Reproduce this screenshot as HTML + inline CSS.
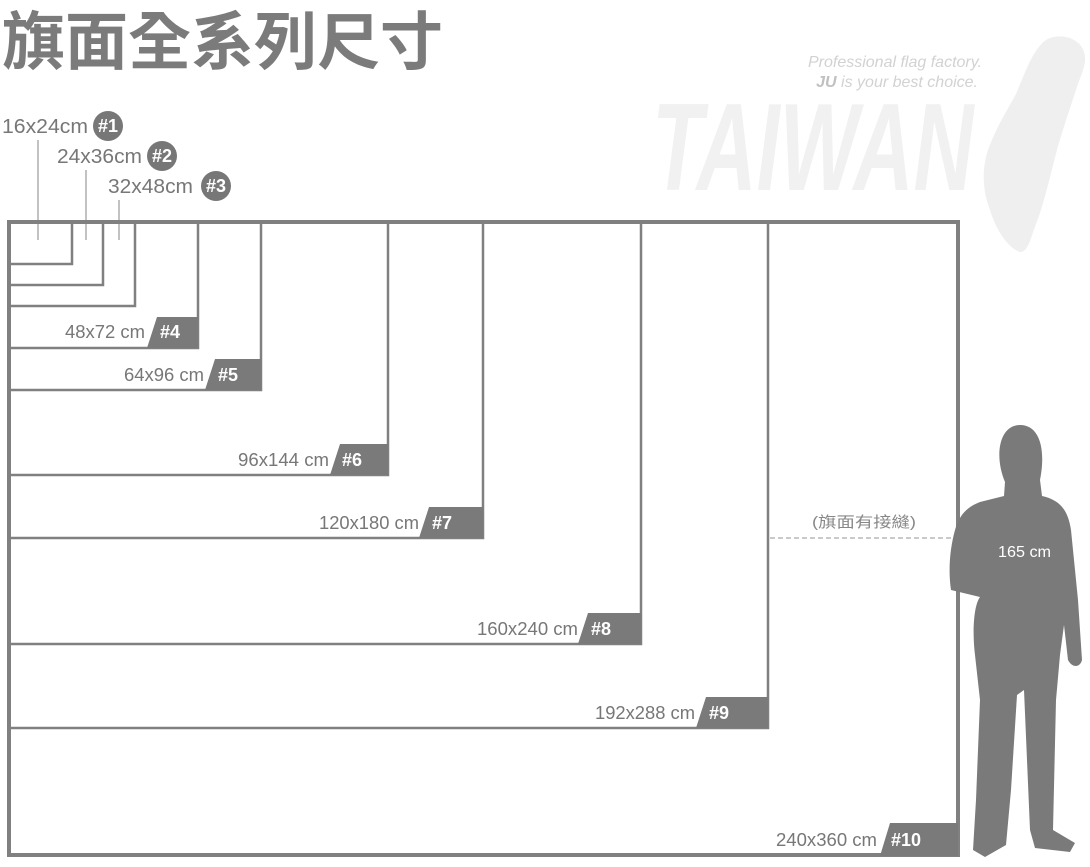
<!DOCTYPE html>
<html><head><meta charset="utf-8"><style>
html,body{margin:0;padding:0;background:#fff;width:1090px;height:867px;overflow:hidden}
svg{display:block}
text{font-family:"Liberation Sans","Noto Sans CJK TC",sans-serif}
</style></head><body>
<svg width="1090" height="867" viewBox="0 0 1090 867" xmlns="http://www.w3.org/2000/svg">
<!-- watermark -->
<path d="M1046,40 C1060,32 1080,38 1084,52 C1088,64 1080,76 1076,90 C1070,108 1064,126 1058,146 C1050,176 1044,204 1036,224 C1030,240 1028,252 1020,252 C1008,248 996,230 990,210 C982,190 982,168 988,150 C996,128 1006,112 1016,94 C1024,76 1032,50 1046,40 Z" fill="#efefef"/>
<text transform="translate(652,190) scale(0.67,1)" font-size="124" font-weight="bold" font-style="italic" fill="#f1f1f1">TAIWAN</text>
<text x="982" y="67" font-size="16" font-style="italic" fill="#d2d2d2" text-anchor="end">Professional flag factory.</text>
<text x="978" y="87" font-size="16" font-style="italic" fill="#d2d2d2" text-anchor="end"><tspan font-weight="bold" fill="#c0c0c0">JU</tspan> is your best choice.</text>

<text x="2" y="64" font-size="63" font-weight="bold" fill="#7b7b7b" font-family="'Noto Sans CJK TC',sans-serif">旗面全系列尺寸</text>

<!-- small labels -->
<g font-size="20" fill="#777">
<text x="2" y="133" textLength="86" lengthAdjust="spacingAndGlyphs">16x24cm</text>
<text x="57" y="163" textLength="85" lengthAdjust="spacingAndGlyphs">24x36cm</text>
<text x="108" y="193" textLength="85" lengthAdjust="spacingAndGlyphs">32x48cm</text>
</g>
<g fill="#777"><circle cx="108" cy="126" r="15"/><circle cx="162" cy="156" r="15"/><circle cx="216" cy="186" r="15"/></g>
<g font-size="18" font-weight="bold" fill="#fff" text-anchor="middle">
<text x="108" y="132">#1</text><text x="162" y="162">#2</text><text x="216" y="192">#3</text>
</g>
<g stroke="#999" stroke-width="1.2">
<line x1="38" y1="140" x2="38" y2="240"/><line x1="86" y1="170" x2="86" y2="240"/><line x1="119" y1="200" x2="119" y2="240"/>
</g>

<!-- rects -->
<g fill="none" stroke="#808080" stroke-width="2.5">
<polyline points="8,264 72,264 72,221"/>
<polyline points="8,285 103,285 103,221"/>
<polyline points="8,306 135,306 135,221"/>
<polyline points="8,348 198,348 198,221"/>
<polyline points="8,390 261,390 261,221"/>
<polyline points="8,475 388,475 388,221"/>
<polyline points="8,538 483,538 483,221"/>
<polyline points="8,644 641,644 641,221"/>
<polyline points="8,728 768,728 768,221"/>
</g>
<rect x="9" y="222" width="949" height="633" fill="none" stroke="#808080" stroke-width="4"/>
<line x1="770" y1="538" x2="956" y2="538" stroke="#aaa" stroke-width="1.2" stroke-dasharray="5,3"/>
<text x="812" y="527" font-size="15" fill="#888" textLength="104" lengthAdjust="spacingAndGlyphs">(旗面有接縫)</text>

<!-- tags -->
<g fill="#7a7a7a">
<polygon points="157,317 198,317 198,348 147,348"/>
<polygon points="215,359 261,359 261,390 205,390"/>
<polygon points="340,444 388,444 388,475 330,475"/>
<polygon points="429,507 483,507 483,538 419,538"/>
<polygon points="588,613 641,613 641,644 578,644"/>
<polygon points="706,697 768,697 768,728 696,728"/>
<polygon points="890,823 958,823 958,856 880,856"/>
</g>
<g font-size="18" font-weight="bold" fill="#fff">
<text x="160" y="338">#4</text><text x="218" y="381">#5</text><text x="342" y="466">#6</text>
<text x="432" y="529">#7</text><text x="591" y="635">#8</text><text x="709" y="719">#9</text><text x="891" y="846">#10</text>
</g>
<g font-size="18" fill="#777" lengthAdjust="spacingAndGlyphs">
<text x="65" y="338" textLength="80" lengthAdjust="spacingAndGlyphs">48x72 cm</text>
<text x="124" y="381" textLength="80" lengthAdjust="spacingAndGlyphs">64x96 cm</text>
<text x="238" y="466" textLength="91" lengthAdjust="spacingAndGlyphs">96x144 cm</text>
<text x="319" y="529" textLength="100" lengthAdjust="spacingAndGlyphs">120x180 cm</text>
<text x="477" y="635" textLength="101" lengthAdjust="spacingAndGlyphs">160x240 cm</text>
<text x="595" y="719" textLength="100" lengthAdjust="spacingAndGlyphs">192x288 cm</text>
<text x="776" y="846" textLength="101" lengthAdjust="spacingAndGlyphs">240x360 cm</text>
</g>

<!-- person -->
<path d="M1020,425 C1040,425 1046,450 1040,480 L1042,496 C1060,500 1068,510 1071,530 L1078,600 L1082,660 C1080,668 1072,668 1068,660 L1064,625 L1060,655 L1056,700 L1053,830 L1075,843 L1070,852 L1035,848 L1030,830 L1024,690 L1017,695 L1011,790 L1006,845 L985,857 L973,850 L976,800 L980,700 L975,655 C972,630 974,605 980,597 L951,590 C948,570 950,548 955,530 C960,512 970,506 980,502 L1004,496 L1005,482 C994,456 999,425 1020,425 Z" fill="#7a7a7a"/>
<text x="998" y="557" font-size="16" fill="#fff" textLength="53" lengthAdjust="spacingAndGlyphs">165 cm</text>
</svg>
</body></html>
